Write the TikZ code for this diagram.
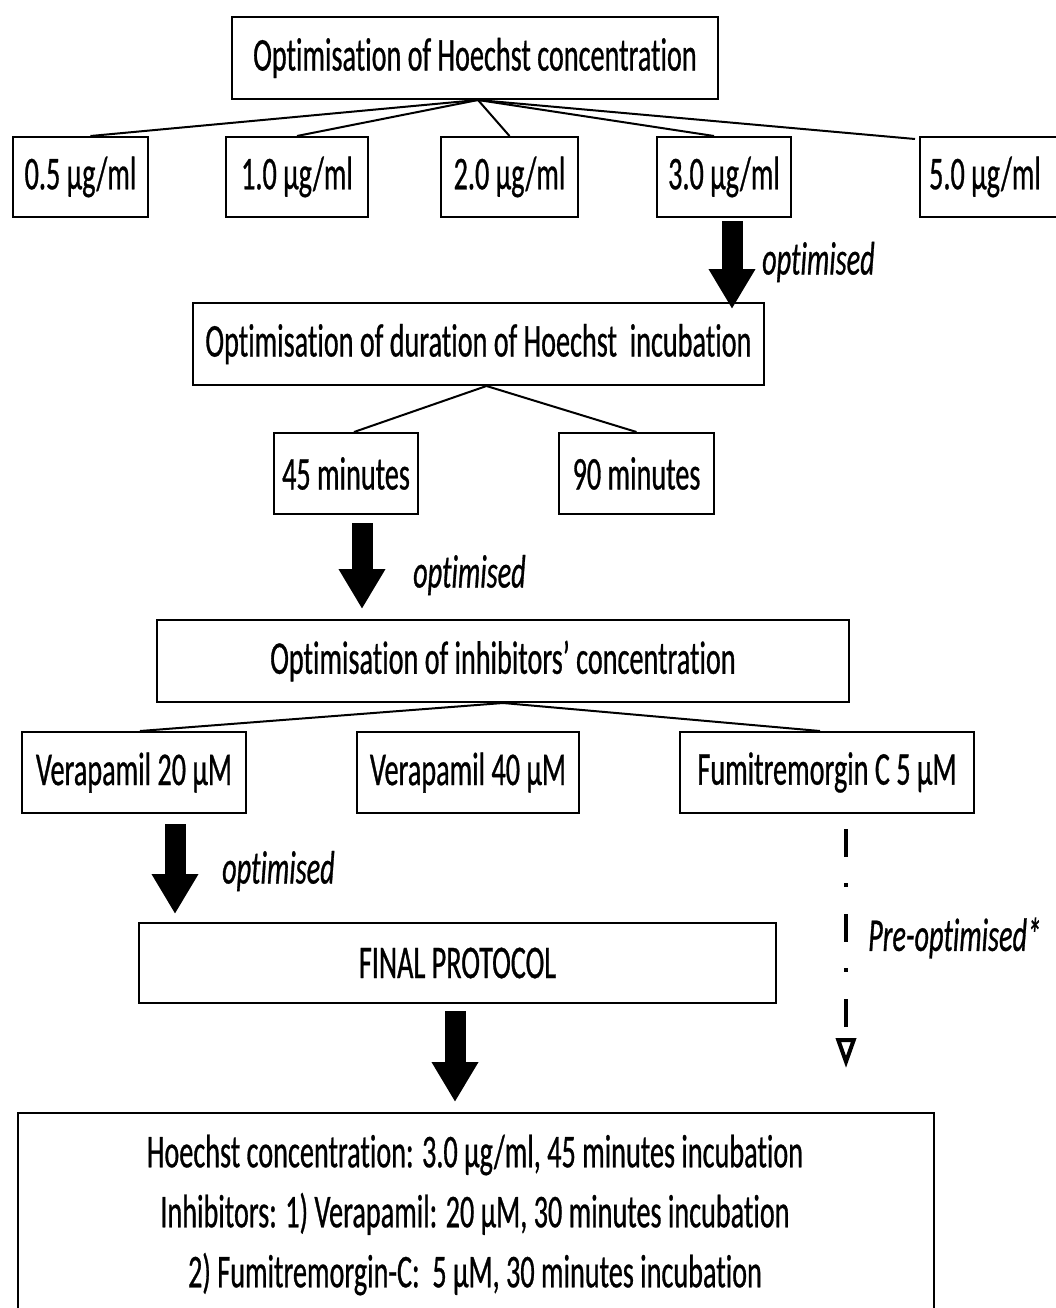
\documentclass[tikz,border=0pt]{standalone}
\usepackage{fontspec}
\setmainfont{Carlito}[FakeStretch=0.6, FakeBold=0.6, RawFeature=-liga]
\usetikzlibrary{arrows.meta}
\begin{document}
\begin{tikzpicture}[x=1pt,y=-1pt,
  box/.style={draw, line width=2pt, inner sep=0pt, align=center,
    font=\fontsize{47}{60}\selectfont},
  thin/.style={line width=2pt},
  bigarrow/.style={line width=21pt, -{Triangle[length=40pt,width=44pt]}},
  note/.style={anchor=west, inner sep=0pt, font=\fontsize{47}{50}\selectfont\itshape},
  dasharrow/.style={line width=4.5pt, dash pattern=on 28pt off 26pt on 4pt off 27pt,
    -{Triangle[open,length=30pt,width=20pt,line width=4pt]}}]
\useasboundingbox (0,0) rectangle (1056,1308);
\clip (0,0) rectangle (1056,1308);

% stage 1: Hoechst concentration
\node[box, minimum width=486pt, minimum height=82pt] (top) at (475,58)
  {Optimisation of Hoechst concentration};
\node[box, minimum width=135pt, minimum height=80pt] (c05) at (80.5,177) {0.5 µg/ml};
\node[box, minimum width=142pt, minimum height=80pt] (c10) at (297,177) {1.0 µg/ml};
\node[box, minimum width=137pt, minimum height=80pt] (c20) at (509.5,177) {2.0 µg/ml};
\node[box, minimum width=134pt, minimum height=80pt] (c30) at (724,177) {3.0 µg/ml};
\node[box, minimum width=150pt, minimum height=80pt] (c50) at (995,177) {\hspace*{-10pt}5.0 µg/ml\hspace*{10pt}};

\draw[thin] ([xshift=3pt]top.south) -- ([xshift=10pt]c05.north);
\draw[thin] ([xshift=3pt]top.south) -- (c10.north);
\draw[thin] ([xshift=3pt]top.south) -- (c20.north);
\draw[thin] ([xshift=3pt]top.south) -- ([xshift=-10pt]c30.north);
\draw[thin] ([xshift=3pt]top.south) -- ([xshift=-4pt,yshift=-3pt]c50.north west);

% stage 2: incubation time
\node[box, minimum width=571pt, minimum height=82pt] (dur) at (478.5,344)
  {Optimisation of duration of Hoechst\ \ incubation};
\node[box, minimum width=144pt, minimum height=81pt] (m45) at (346,473.5) {45 minutes};
\node[box, minimum width=155pt, minimum height=81pt] (m90) at (636.5,473.5) {90 minutes};

\draw[thin] ([xshift=8pt]dur.south) -- ([xshift=8pt]m45.north);
\draw[thin] ([xshift=8pt]dur.south) -- (m90.north);

\draw[bigarrow, shorten <=3pt, shorten >=-7pt]
  ([xshift=8pt]c30.south) -- ([xshift=8pt]c30.south |- dur.north);
\node[note] (o1) at (762,262) {optimised};

% stage 3: inhibitors
\node[box, minimum width=692pt, minimum height=82pt] (inh) at (503,661)
  {Optimisation of inhibitors’ concentration};
\node[box, minimum width=224pt, minimum height=81pt] (v20) at (134,772.5) {Verapamil 20 µM};
\node[box, minimum width=222pt, minimum height=81pt] (v40) at (468,772.5) {Verapamil 40 µM};
\node[box, minimum width=294pt, minimum height=81pt] (fum) at (827,772.5) {Fumitremorgin C 5 µM};

\draw[thin] (inh.south) -- ([xshift=6pt]v20.north);
\draw[thin] (inh.south) -- ([xshift=-7pt]fum.north);

\draw[bigarrow, shorten <=8pt, shorten >=10pt]
  ([xshift=16pt]m45.south) -- ([xshift=16pt]m45.south |- inh.north);
\node[note] (o2) at (413,575) {optimised};

% stage 4: final protocol
\node[box, minimum width=637pt, minimum height=80pt] (fin) at (457.5,963) {FINAL PROTOCOL};
\node[box, minimum width=916pt, minimum height=230pt, anchor=north] (res) at (476,1112) {};
\node[inner sep=0pt, align=center, font=\fontsize{47}{60}\selectfont] (restext) at (475,1215)
  {Hoechst concentration: 3.0 µg/ml, 45 minutes incubation\\
   Inhibitors: 1) Verapamil: 20 µM, 30 minutes incubation\\
   2) Fumitremorgin-C:\ \ 5 µM, 30 minutes incubation};

\draw[bigarrow, shorten <=10pt, shorten >=8pt]
  ([xshift=41pt]v20.south) -- ([xshift=41pt]v20.south |- fin.north);
\node[note] (o3) at (222,871) {optimised};

\draw[bigarrow, shorten <=7pt, shorten >=10pt]
  ([xshift=-2.5pt]fin.south) -- ([xshift=-2.5pt]fin.south |- res.north);

\draw[dasharrow, shorten <=15pt, shorten >=44pt]
  ([xshift=19pt]fum.south) -- ([xshift=19pt]fum.south |- res.north);
\node[note] (pre) at (868,938) {Pre-optimised*};
\end{tikzpicture}
\end{document}
